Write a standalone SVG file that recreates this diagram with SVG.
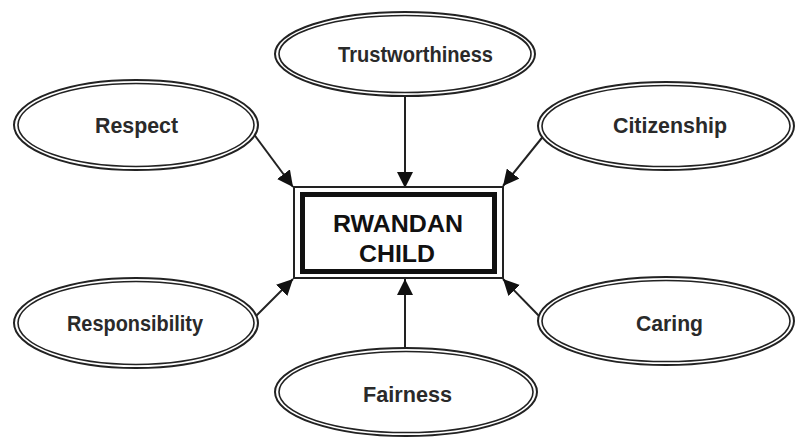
<svg xmlns="http://www.w3.org/2000/svg" width="796" height="439" viewBox="0 0 796 439">
<defs>
<marker id="ah" viewBox="0 0 10 10" refX="10" refY="5" markerWidth="16" markerHeight="16" markerUnits="userSpaceOnUse" orient="auto">
<path d="M0,0 L10,5 L0,10 z" fill="#111"/>
</marker>
</defs>
<style>
.o{fill:#fff;stroke:#222;stroke-width:2}
.i{fill:none;stroke:#222;stroke-width:1.6}
.t{font-family:"Liberation Sans Narrow","Liberation Sans",Arial,sans-serif;font-weight:bold;font-size:22px;fill:#2a2a2a;text-anchor:middle}
.c{font-family:"Liberation Sans",Arial,sans-serif;font-weight:900;font-size:23px;fill:#111;text-anchor:middle}
.a{stroke:#222;stroke-width:2;fill:none;marker-end:url(#ah)}
</style>
<rect width="796" height="439" fill="#fff"/>
<g id="connectors">
<line class="a" x1="405" y1="97" x2="405" y2="188"/>
<line class="a" x1="253" y1="133" x2="293" y2="187"/>
<line class="a" x1="545" y1="134" x2="503" y2="186"/>
<line class="a" x1="256" y1="316" x2="293" y2="279"/>
<line class="a" x1="541" y1="318" x2="503" y2="279"/>
<line class="a" x1="405" y1="348" x2="405" y2="279"/>
</g>
<g id="trustworthiness">
<ellipse class="o" cx="405" cy="54" rx="130" ry="42"/>
<ellipse class="i" cx="405" cy="54" rx="126" ry="38.5"/>
<text class="t" x="415.5" y="62" textLength="155" lengthAdjust="spacingAndGlyphs">Trustworthiness</text>
</g>
<g id="respect">
<ellipse class="o" cx="136" cy="125" rx="122" ry="45"/>
<ellipse class="i" cx="136" cy="125" rx="118" ry="41.5"/>
<text class="t" x="136.5" y="133" textLength="83" lengthAdjust="spacingAndGlyphs">Respect</text>
</g>
<g id="citizenship">
<ellipse class="o" cx="666" cy="126" rx="128" ry="44"/>
<ellipse class="i" cx="666" cy="126" rx="124" ry="40.5"/>
<text class="t" x="670" y="133" textLength="114" lengthAdjust="spacingAndGlyphs">Citizenship</text>
</g>
<g id="responsibility">
<ellipse class="o" cx="136" cy="323" rx="122" ry="45"/>
<ellipse class="i" cx="136" cy="323" rx="118" ry="41.5"/>
<text class="t" x="135" y="331" textLength="136" lengthAdjust="spacingAndGlyphs">Responsibility</text>
</g>
<g id="caring">
<ellipse class="o" cx="666" cy="321" rx="128" ry="44"/>
<ellipse class="i" cx="666" cy="321" rx="124" ry="40.5"/>
<text class="t" x="669.5" y="331" textLength="67" lengthAdjust="spacingAndGlyphs">Caring</text>
</g>
<g id="fairness">
<ellipse class="o" cx="406" cy="392" rx="131" ry="44"/>
<ellipse class="i" cx="406" cy="392" rx="127" ry="40.5"/>
<text class="t" x="407.5" y="402" textLength="89" lengthAdjust="spacingAndGlyphs">Fairness</text>
</g>
<g id="rwandan-child">
<rect x="294" y="187" width="209" height="91" fill="#fff" stroke="#222" stroke-width="2"/>
<rect x="302.5" y="194.5" width="192" height="77" fill="none" stroke="#111" stroke-width="5"/>
<text class="c" x="398" y="232" textLength="130" lengthAdjust="spacingAndGlyphs">RWANDAN</text>
<text class="c" x="397" y="262" textLength="76" lengthAdjust="spacingAndGlyphs">CHILD</text>
</g>
</svg>
